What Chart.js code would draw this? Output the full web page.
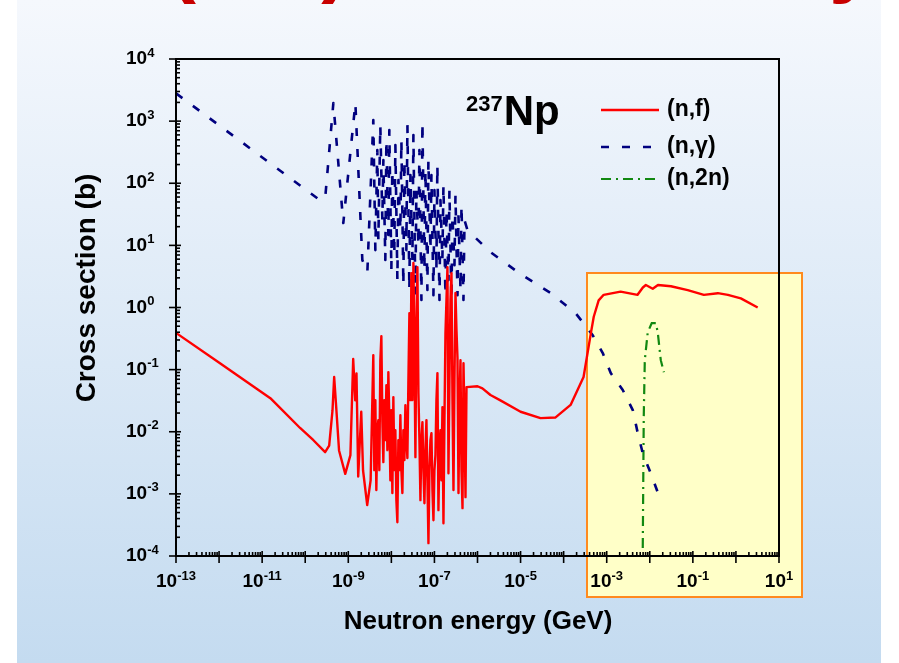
<!DOCTYPE html>
<html>
<head>
<meta charset="utf-8">
<script src="https://cdn.jsdelivr.net/npm/chart.js@4.4.1/dist/chart.umd.min.js"></script>
<style>
    html, body { margin: 0; padding: 0; background: #fff; }
    body { width: 899px; height: 663px; position: relative; overflow: hidden; font-family: 'Liberation Sans', Arial, sans-serif; }
    .panel { position: absolute; left: 17px; top: 0; width: 864px; height: 663px; background: linear-gradient(#f5f8fd, #c4dbf0); }
    .title { position: absolute; left: 0; top: 0; width: 899px; height: 26px; overflow: hidden; }
    .title span { position: absolute; left: 168px; top: -84px; font: bold 84px/1 'Liberation Sans', Arial, sans-serif; color: #c80000; white-space: nowrap; letter-spacing: 1px; }
    .highlight { position: absolute; left: 586px; top: 272px; width: 213px; height: 322px; background: #ffffc8; border: 2px solid #ff8a1e; }
    canvas { position: absolute; left: 0; top: 0; }
</style>
</head>
<body onload="onInit()">
    <div class="panel"></div>
    <div class="title"><span>(n,x) Data Library</span></div>
    <div class="highlight"></div>
    <canvas id="myChart" width="899" height="663"></canvas>

<script>
'use strict'

// neutron energy in GeV, cross section in barn
const fissionE = [
    1e-13, 1.05e-12, 1.55e-11, 7.6e-11, 1.55e-10, 2.9e-10, 3.6e-10, 4.3e-10, 4.7e-10, 5.2e-10,
    6.1e-10, 8.5e-10, 1.12e-9, 1.3e-9, 1.45e-9, 1.55e-9, 1.7e-9, 2.0e-9, 2.2e-9, 2.75e-9,
    3.3e-9,
    // resonance region
    3.81e-9, 4.02e-9, 4.25e-9, 4.48e-9, 4.73e-9, 4.99e-9, 5.26e-9, 5.55e-9, 5.86e-9, 6.18e-9,
    6.52e-9, 6.88e-9, 7.26e-9, 7.66e-9, 8.08e-9, 8.52e-9, 8.99e-9, 9.49e-9, 1.0e-8, 1.055e-8,
    1.113e-8, 1.174e-8, 1.239e-8, 1.307e-8, 1.379e-8, 1.455e-8, 1.535e-8, 1.62e-8, 1.709e-8, 1.803e-8,
    1.902e-8, 2.007e-8, 2.117e-8, 2.234e-8, 2.357e-8, 2.487e-8, 2.624e-8, 2.768e-8, 2.92e-8, 3.081e-8,
    3.251e-8, 3.43e-8, 3.619e-8, 3.818e-8, 4.028e-8, 4.25e-8, 4.484e-8, 4.73e-8, 4.99e-8, 5.265e-8,
    5.555e-8, 5.861e-8, 6.183e-8, 6.524e-8, 6.883e-8, 7.262e-8, 7.662e-8, 8.083e-8, 8.528e-8, 8.998e-8,
    9.493e-8, 1.0e-7, 1.055e-7, 1.113e-7, 1.174e-7, 1.239e-7, 1.307e-7, 1.379e-7, 1.455e-7, 1.535e-7,
    1.62e-7, 1.709e-7, 1.803e-7, 1.902e-7, 2.007e-7, 2.117e-7, 2.234e-7, 2.357e-7, 2.487e-7, 2.624e-7,
    2.768e-7, 2.92e-7, 3.081e-7, 3.251e-7, 3.43e-7, 3.619e-7, 3.818e-7, 4.028e-7, 4.25e-7, 4.484e-7,
    4.73e-7, 4.99e-7, 5.265e-7, 5.555e-7,
    // smooth part
    1.0e-6, 1.3e-6, 2.0e-6, 3.4e-6, 1.0e-5, 2.9e-5, 6.5e-5, 1.45e-4, 2.9e-4, 4.3e-4,
    5.0e-4, 6.5e-4, 8.5e-4, 2.1e-3, 5.2e-3, 6.9e-3, 8.1e-3, 1.17e-2, 1.55e-2, 3.1e-2,
    7.6e-2, 0.18, 0.38, 0.65, 1.3, 3.2
]
const fissionXS = [
    0.39, 0.127, 0.0347, 0.0115, 7.3e-3, 4.7e-3, 6.0e-3, 0.022, 0.076, 0.027,
    5.0e-3, 2.1e-3, 4.2e-3, 0.148, 0.032, 0.087, 1.9e-3, 0.021, 2.4e-3, 6.6e-4,
    1.65e-3,
    0.171, 2.41e-3, 0.0323, 1.15e-3, 0.0106, 0.0154, 2.41e-3, 0.142, 0.346, 0.0154,
    3.24e-3, 0.0323, 7.33e-3, 0.0562, 5.06e-3, 0.0912, 0.0154, 1.66e-3, 0.0223, 1.03e-3,
    0.0361, 2.41e-3, 0.0106, 7.92e-4, 3.5e-4, 7.33e-3, 2.41e-3, 0.0185, 2.41e-3, 1.03e-3,
    0.0106, 3.49e-3, 0.0268, 7.33e-3, 3.76e-3, 0.0678, 0.812, 0.0323, 3.58, 0.0323,
    5.19, 0.206, 3.9e-3, 0.627, 4.47, 0.0419, 7.33e-3, 7.92e-4, 7.33e-3, 0.0143,
    2.41e-3, 7.08e-4, 5.06e-3, 0.0154, 1.66e-3, 1.61e-4, 2.41e-3, 7.33e-3, 9.49e-3, 1.15e-3,
    3.77e-4, 2.41e-3, 4.2e-3, 0.0323, 0.0879, 5.47e-4, 5.06e-3, 0.0106, 1.66e-3, 0.0249,
    3.37e-4, 0.0154, 0.387, 1.32, 4.47, 2.15e-3, 0.0678, 1.32, 3.58, 0.0323,
    1.15e-3, 0.0678, 1.71, 0.433, 0.153, 1.03e-3, 0.0323, 0.142, 2.41e-3, 5.89e-4,
    0.127, 0.0154, 8.85e-4, 0.0523,
    0.054, 0.050, 0.039, 0.032, 0.021, 0.0166, 0.017, 0.027, 0.076, 0.39,
    0.71, 1.3, 1.6, 1.8, 1.6, 2.1, 2.3, 2.0, 2.3, 2.2,
    1.9, 1.6, 1.7, 1.6, 1.4, 1.0
]

const captureE = [
    1e-13, 2.0e-10, 2.9e-10, 4.5e-10, 7.66e-10, 1.46e-9, 2.12e-9, 2.77e-9, 3.81e-9, 4.25e-9,
    4.72e-9, 4.99e-9, 5.54e-9, 6.18e-9, 6.52e-9, 7.24e-9, 7.66e-9, 8.51e-9, 8.97e-9, 1.0e-8,
    1.05e-8, 1.17e-8, 1.24e-8, 1.38e-8, 1.46e-8, 1.62e-8, 1.71e-8, 1.90e-8, 2.00e-8, 2.23e-8,
    2.36e-8, 2.62e-8, 2.77e-8, 3.08e-8, 3.25e-8, 3.61e-8, 3.81e-8, 4.25e-8, 4.48e-8, 4.99e-8,
    5.26e-8, 5.85e-8, 6.18e-8, 6.87e-8, 7.24e-8, 8.07e-8, 8.51e-8, 9.48e-8, 1.0e-7, 1.11e-7,
    1.17e-7, 1.31e-7, 1.38e-7, 1.53e-7, 1.62e-7, 1.80e-7, 1.90e-7, 2.12e-7, 2.23e-7, 2.48e-7,
    2.62e-7, 2.92e-7, 3.08e-7, 3.43e-7, 3.61e-7, 4.03e-7, 4.25e-7, 4.72e-7, 4.99e-7, 5.85e-7,
    2.0e-6, 1.0e-5, 5.0e-5, 1.9e-4, 4.7e-4, 8.1e-4, 1.24e-3, 2.36e-3, 4.03e-3, 5.26e-3,
    6.87e-3, 1.05e-2, 1.62e-2
]
const captureXS = [
    2800, 56, 56, 1950, 22.9, 1950, 5.8, 3.7, 1040, 8.4,
    343, 12.2, 865, 25.5, 236, 5.8, 497, 14.7, 719, 4.0,
    163, 6.98, 412, 2.76, 113, 17.6, 497, 2.29, 236, 8.4,
    865, 1.91, 136, 5.8, 597, 1.58, 77.7, 10.1, 343, 1.32,
    968, 4.0, 163, 1.91, 236, 8.4, 136, 1.58, 77.7, 4.0,
    196, 1.32, 53.6, 5.8, 93.6, 1.58, 37.0, 2.76, 77.7, 1.32,
    30.7, 4.81, 64.6, 1.58, 30.7, 1.91, 44.6, 1.32, 25.5, 17.6,
    7.8, 3.45, 1.71, 0.81, 0.36, 0.185, 0.088, 0.047, 0.0223, 9.5e-3,
    4.5e-3, 2.15e-3, 9.5e-4
]

const n2nE = [6.87e-3, 7.24e-3, 7.66e-3, 8.97e-3, 1.11e-2, 1.38e-2, 1.53e-2, 1.80e-2, 2.12e-2]
const n2nXS = [1.34e-4, 0.0172, 0.142, 0.40, 0.56, 0.56, 0.40, 0.142, 0.091]

const seriesLabels = ['(n,f)', '(n,\u03b3)', '(n,2n)']
const xTickPowers = [-13, -11, -9, -7, -5, -3, -1, 1]
const yTickPowers = [-4, -3, -2, -1, 0, 1, 2, 3, 4]

const FONT = '"Liberation Sans", Arial, sans-serif'

function toPoints(es, xs) {
    return es.map((e, idx) => ({ x: e, y: xs[idx] }))
}

function drawPower(ctx, exp, x, y, centered) {
    ctx.font = 'bold 19px ' + FONT
    const wBase = ctx.measureText('10').width
    ctx.font = 'bold 13px ' + FONT
    const wExp = ctx.measureText(exp).width
    const left = centered ? x - (wBase + wExp) / 2 : x
    ctx.textAlign = 'left'
    ctx.textBaseline = 'middle'
    ctx.font = 'bold 19px ' + FONT
    ctx.fillText('10', left, y)
    ctx.font = 'bold 13px ' + FONT
    ctx.fillText(exp, left + wBase, y - 6)
}

function drawLine(ctx, x1, y1, x2, y2) {
    ctx.beginPath()
    ctx.moveTo(x1, y1)
    ctx.lineTo(x2, y2)
    ctx.stroke()
}

const axesPlugin = {
    id: 'axesPlugin',
    afterDraw(chart) {
        const { ctx, chartArea: area } = chart
        const xScale = chart.scales.x
        const yScale = chart.scales.y
        ctx.save()
        ctx.fillStyle = '#000'
        ctx.strokeStyle = '#000'
        ctx.lineWidth = 2
        ctx.strokeRect(area.left, area.top, area.right - area.left, area.bottom - area.top)

        // x ticks: majors cross the axis, minors inside
        ctx.lineWidth = 1.6
        for (let p = -13; p <= 1; p++) {
            const px = xScale.getPixelForValue(Math.pow(10, p))
            drawLine(ctx, px, area.bottom - 5, px, area.bottom + 7)
            if (p === 1) continue
            for (let m = 2; m < 10; m++) {
                const mx = xScale.getPixelForValue(m * Math.pow(10, p))
                drawLine(ctx, mx, area.bottom - 4, mx, area.bottom)
            }
        }
        for (let p = -4; p <= 4; p++) {
            const py = yScale.getPixelForValue(Math.pow(10, p))
            drawLine(ctx, area.left - 7, py, area.left + 5, py)
            if (p === 4) continue
            for (let m = 2; m < 10; m++) {
                const my = yScale.getPixelForValue(m * Math.pow(10, p))
                drawLine(ctx, area.left, my, area.left + 4, my)
            }
        }

        xTickPowers.forEach(p => drawPower(ctx, String(p), xScale.getPixelForValue(Math.pow(10, p)), area.bottom + 26, true))
        yTickPowers.forEach(p => drawPower(ctx, String(p), 126, yScale.getPixelForValue(Math.pow(10, p)), false))

        // axis titles
        ctx.textAlign = 'center'
        ctx.textBaseline = 'middle'
        ctx.font = 'bold 26px ' + FONT
        ctx.fillText('Neutron energy (GeV)', 478, 622)
        ctx.save()
        ctx.translate(87, 288)
        ctx.rotate(-Math.PI / 2)
        ctx.font = 'bold 28px ' + FONT
        ctx.fillText('Cross section (b)', 0, 0)
        ctx.restore()

        // nuclide label
        ctx.textAlign = 'left'
        ctx.textBaseline = 'alphabetic'
        ctx.font = 'bold 22px ' + FONT
        ctx.fillText('237', 466, 111)
        const w237 = ctx.measureText('237').width
        ctx.font = 'bold 42px ' + FONT
        ctx.fillText('Np', 466 + w237 + 1, 125)

        // legend
        const legendY = [110, 147, 179]
        chart.data.datasets.forEach((ds, idx) => {
            ctx.save()
            ctx.strokeStyle = ds.borderColor
            ctx.lineWidth = ds.borderWidth
            ctx.setLineDash(ds.borderDash || [])
            drawLine(ctx, 601, legendY[idx], 659, legendY[idx])
            ctx.restore()
            ctx.font = 'bold 23px ' + FONT
            ctx.textBaseline = 'middle'
            ctx.fillText(ds.label, 667, legendY[idx])
        })
        ctx.restore()
    }
}

function onInit() {
    const ctx = document.getElementById('myChart')
    new Chart(ctx, {
        type: 'line',
        data: {
            datasets: [{
                label: seriesLabels[0],
                data: toPoints(fissionE, fissionXS),
                borderColor: '#ff0000',
                borderWidth: 2.4,
                borderJoinStyle: 'round',
                pointRadius: 0
            }, {
                label: seriesLabels[1],
                data: toPoints(captureE, captureXS),
                borderColor: '#00007f',
                borderWidth: 2.6,
                borderDash: [8, 13],
                borderJoinStyle: 'round',
                pointRadius: 0
            }, {
                label: seriesLabels[2],
                data: toPoints(n2nE, n2nXS),
                borderColor: '#118811',
                borderWidth: 2.2,
                borderDash: [10, 5, 2, 5],
                pointRadius: 0
            }]
        },
        options: {
            responsive: false,
            animation: false,
            layout: { padding: { left: 176, right: 120, top: 59, bottom: 107 } },
            plugins: {
                legend: { display: false },
                tooltip: { enabled: false }
            },
            scales: {
                x: { type: 'logarithmic', min: 1e-13, max: 10, display: false },
                y: { type: 'logarithmic', min: 1e-4, max: 1e4, display: false }
            }
        },
        plugins: [axesPlugin]
    })
}
</script>
</body>
</html>
